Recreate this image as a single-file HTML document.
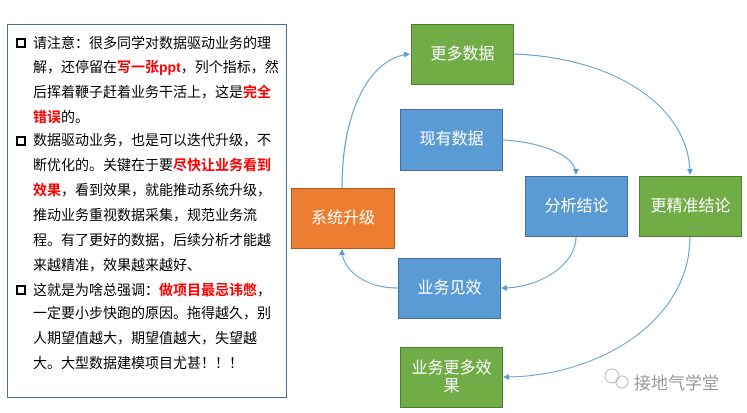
<!DOCTYPE html>
<html><head><meta charset="utf-8"><style>
body{margin:0;width:747px;height:413px;background:#fff;position:relative;overflow:hidden;font-family:"Liberation Sans","Noto Sans CJK SC",sans-serif}
.panel{position:absolute;left:7px;top:24px;width:278px;height:372px;border:1.5px solid #41719c}
.l{position:absolute;left:33px;font-size:14px;line-height:20px;height:20px;white-space:nowrap;color:#000}
.r{color:#f00;font-weight:bold}
.b{position:absolute;left:16px;width:6px;height:6px;border:2px solid #000}
.n{position:absolute;color:#fff;font-size:16px;display:flex;align-items:center;justify-content:center;text-align:center;box-sizing:border-box;line-height:18px}
.g{background:#70ad47;border:1.5px solid #507e32}
.bl{background:#5b9bd5;border:1.5px solid #41719c}
.o{background:#ed7d31;border:1.5px solid #ae5a21}
</style></head><body>
<div class="panel"></div>
<div class="b" style="top:38px"></div>
<div class="b" style="top:136px"></div>
<div class="b" style="top:285px"></div>
<div class="l" style="top:33px">请注意：很多同学对数据驱动业务的理</div>
<div class="l" style="top:57px">解，还停留在<span class="r">写一张ppt</span>，列个指标，然</div>
<div class="l" style="top:82px">后挥着鞭子赶着业务干活上，这是<span class="r">完全</span></div>
<div class="l" style="top:107px"><span class="r">错误</span>的。</div>
<div class="l" style="top:130px">数据驱动业务，也是可以迭代升级，不</div>
<div class="l" style="top:155px">断优化的。关键在于要<span class="r">尽快让业务看到</span></div>
<div class="l" style="top:180px"><span class="r">效果</span>，看到效果，就能推动系统升级，</div>
<div class="l" style="top:205px">推动业务重视数据采集，规范业务流</div>
<div class="l" style="top:230px">程。有了更好的数据，后续分析才能越</div>
<div class="l" style="top:255px">来越精准，效果越来越好、</div>
<div class="l" style="top:280px">这就是为啥总强调：<span class="r">做项目最忌讳憋</span>，</div>
<div class="l" style="top:303px">一定要小步快跑的原因。拖得越久，别</div>
<div class="l" style="top:328px">人期望值越大，期望值越大，失望越</div>
<div class="l" style="top:353px">大。大型数据建模项目尤甚！！！</div>

<svg style="position:absolute;left:0;top:0" width="747" height="413">
<defs><marker id="a" markerWidth="6" markerHeight="6" refX="5" refY="3" orient="auto"><path d="M0,0 L6,3 L0,6z" fill="#5b9bd5"/></marker></defs>
<g fill="none" stroke="#5b9bd5" stroke-width="1" marker-end="url(#a)">
<path d="M342,188 C342,110 370,58 409,54"/>
<path d="M514,54 C620,58 690,110 690,174"/>
<path d="M503,140 C540,142 576,155 576,174"/>
<path d="M576,237 C576,265 540,288 502,288"/>
<path d="M398,288 C365,288 342,270 342,250"/>
<path d="M690,237 C690,320 600,377 504,377"/>
</g>
<g fill="none" stroke="#bbb" stroke-width="1">
<circle cx="612" cy="376" r="7"/><circle cx="622" cy="382" r="6"/>
</g></svg>

<div class="n g" style="left:411px;top:24px;width:103px;height:61px">更多数据</div>
<div class="n bl" style="left:400px;top:109px;width:103px;height:62px">现有数据</div>
<div class="n bl" style="left:525px;top:176px;width:103px;height:61px">分析结论</div>
<div class="n g" style="left:639px;top:176px;width:103px;height:61px">更精准结论</div>
<div class="n o" style="left:291px;top:188px;width:104px;height:61px">系统升级</div>
<div class="n bl" style="left:398px;top:258px;width:103px;height:61px">业务见效</div>
<div class="n g" style="left:400px;top:347px;width:103px;height:61px">业务更多效<br>果</div>
<div style="position:absolute;left:634px;top:369px;font-size:17px;color:#999;font-family:'Noto Sans CJK SC',sans-serif">接地气学堂</div>
</body></html>
